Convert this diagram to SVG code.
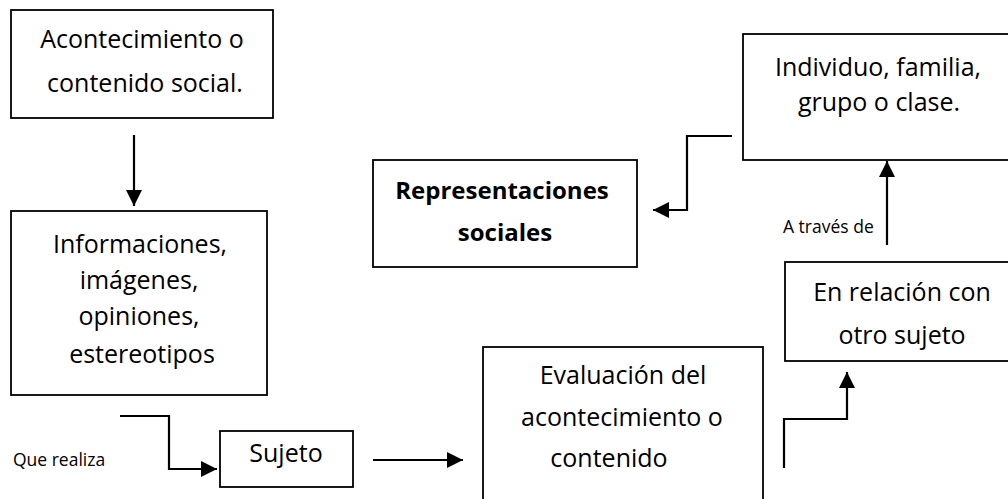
<svg xmlns="http://www.w3.org/2000/svg" width="1008" height="499" viewBox="0 0 1008 499">
<style>
.box{fill:#fff;stroke:#000;stroke-width:1.8}
.t{font-family:"Open Sans","Liberation Sans",sans-serif;font-size:25px;fill:#000;text-anchor:middle}
.b{font-weight:bold;font-size:24px}
.s{font-family:"Open Sans","Liberation Sans",sans-serif;font-size:17.5px;fill:#000}
.c{fill:none;stroke:#000;stroke-width:2.2}
</style>
<defs>
<marker id="ah" markerUnits="userSpaceOnUse" markerWidth="18" markerHeight="18" refX="16" refY="9" orient="auto">
<path d="M0,1 L16,9 L0,17 z" fill="#000"/>
</marker>
</defs>
<rect width="1008" height="499" fill="#fff"/>
<g id="connectors">
<path class="c" d="M134,135 V206" marker-end="url(#ah)"/>
<path class="c" d="M120,416 H169 V469 H217" marker-end="url(#ah)"/>
<path class="c" d="M373,460 H463" marker-end="url(#ah)"/>
<path class="c" d="M784,468 V419 H847 V372" marker-end="url(#ah)"/>
<path class="c" d="M887,245 V161" marker-end="url(#ah)"/>
<path class="c" d="M732,136 H687 V210 H653" marker-end="url(#ah)"/>
</g>
<g id="n1">
<rect class="box" x="11" y="10" width="262" height="108"/>
<text class="t" x="142" y="48">Acontecimiento o</text>
<text class="t" x="145" y="92">contenido social.</text>
</g>
<g id="n2">
<rect class="box" x="11" y="211" width="256" height="184"/>
<text class="t" x="140" y="253">Informaciones,</text>
<text class="t" x="139" y="289">imágenes,</text>
<text class="t" x="139" y="325">opiniones,</text>
<text class="t" x="142" y="363">estereotipos</text>
</g>
<g id="lbl1">
<text class="s" x="13" y="466">Que realiza</text>
</g>
<g id="n3">
<rect class="box" x="220" y="431" width="133" height="56"/>
<text class="t" x="286" y="462">Sujeto</text>
</g>
<g id="n4">
<rect class="box" x="483" y="347" width="280" height="160"/>
<text class="t" x="623" y="384">Evaluación del</text>
<text class="t" x="622" y="426">acontecimiento o</text>
<text class="t" x="609" y="467">contenido</text>
</g>
<g id="n5">
<rect class="box" x="785" y="262" width="240" height="99"/>
<text class="t" x="902" y="301">En relación con</text>
<text class="t" x="902" y="344">otro sujeto</text>
</g>
<g id="lbl2">
<text class="s" x="783" y="233">A través de</text>
</g>
<g id="n6">
<rect class="box" x="743" y="34" width="280" height="126"/>
<text class="t" x="878" y="76">Individuo, familia,</text>
<text class="t" x="879" y="111">grupo o clase.</text>
</g>
<g id="n7">
<rect class="box" x="373" y="160" width="264" height="107"/>
<text class="t b" x="502" y="199">Representaciones</text>
<text class="t b" x="505" y="241">sociales</text>
</g>
</svg>
